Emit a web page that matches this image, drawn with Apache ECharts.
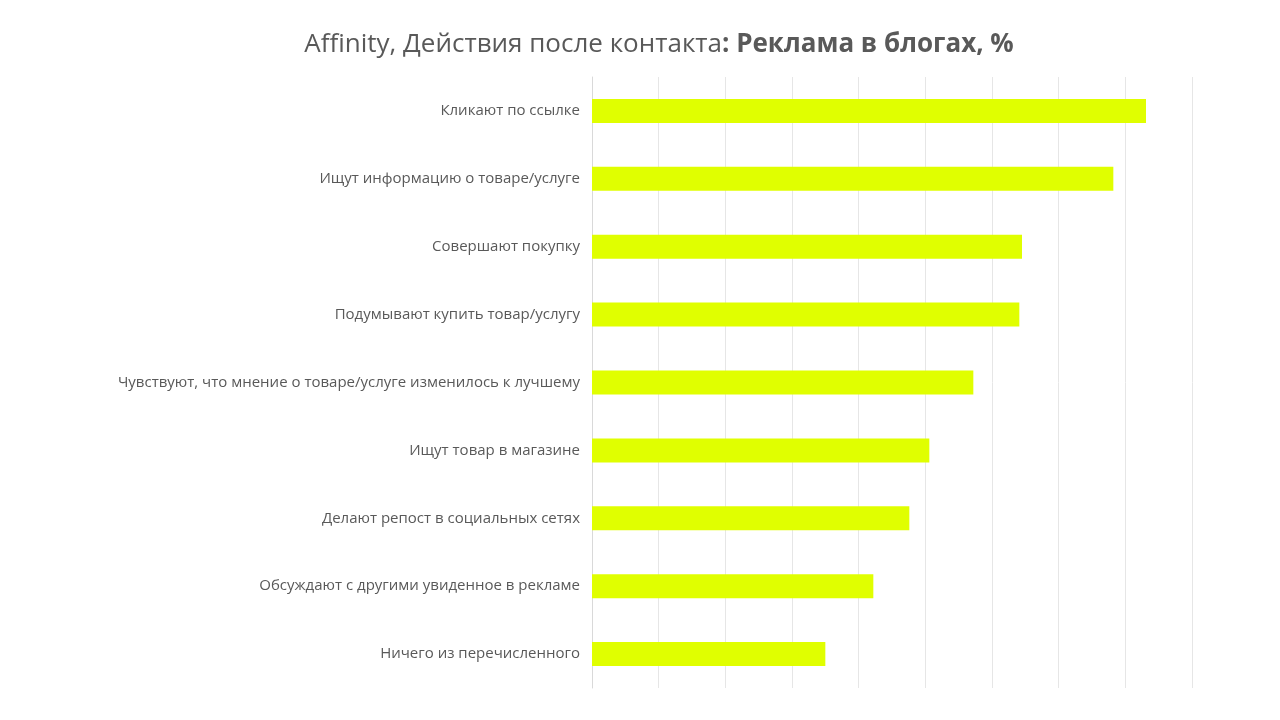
<!DOCTYPE html>
<html>
<head>
<meta charset="utf-8">
<script src="https://cdn.jsdelivr.net/npm/echarts@6/dist/echarts.min.js"></script>
<style>html,body{margin:0;padding:0;background:#fff;}#c{width:1280px;height:720px;}</style>
</head>
<body>
<div id="c"></div>
<script>
const categories = [
  'Кликают по ссылке',
  'Ищут информацию о товаре/услуге',
  'Совершают покупку',
  'Подумывают купить товар/услугу',
  'Чувствуют, что мнение о товаре/услуге изменилось к лучшему',
  'Ищут товар в магазине',
  'Делают репост в социальных сетях',
  'Обсуждают с другими увиденное в рекламе',
  'Ничего из перечисленного'
];
const values = [83.1, 78.2, 64.5, 64.1, 57.2, 50.6, 47.6, 42.2, 35.0];
const titleRegular = 'Affinity, Действия после контакта';
const titleBold = ': Реклама в блогах, %';

const chart = echarts.init(document.getElementById('c'));
chart.setOption({
  animation: false,
  backgroundColor: '#ffffff',
  title: {
    text: '{r|' + titleRegular + '}{b|' + titleBold + '}',
    left: 654,
    textAlign: 'center',
    top: 27,
    textStyle: {
      rich: {
        r: { fontFamily: 'Open Sans', fontSize: 26, color: '#595959', fontWeight: 'normal' },
        b: { fontFamily: 'Open Sans', fontSize: 26, color: '#595959', fontWeight: 'bold' }
      }
    }
  },
  grid: { left: 592, right: 88, top: 77, bottom: 32, containLabel: false },
  xAxis: {
    type: 'value',
    min: 0, max: 90, interval: 10,
    axisLabel: { show: false },
    axisLine: { show: false },
    axisTick: { show: false },
    splitLine: { show: true, lineStyle: { color: '#e6e6e6', width: 1 } }
  },
  yAxis: {
    type: 'category',
    data: categories,
    inverse: true,
    axisLine: { show: true, lineStyle: { color: '#d9d9d9', width: 1 } },
    axisTick: { show: false },
    axisLabel: { color: '#595959', fontFamily: 'Open Sans', fontSize: 15, margin: 12 }
  },
  series: [{
    type: 'bar',
    data: values,
    barWidth: 24,
    itemStyle: { color: '#e0ff00' }
  }]
});
</script>
</body>
</html>
